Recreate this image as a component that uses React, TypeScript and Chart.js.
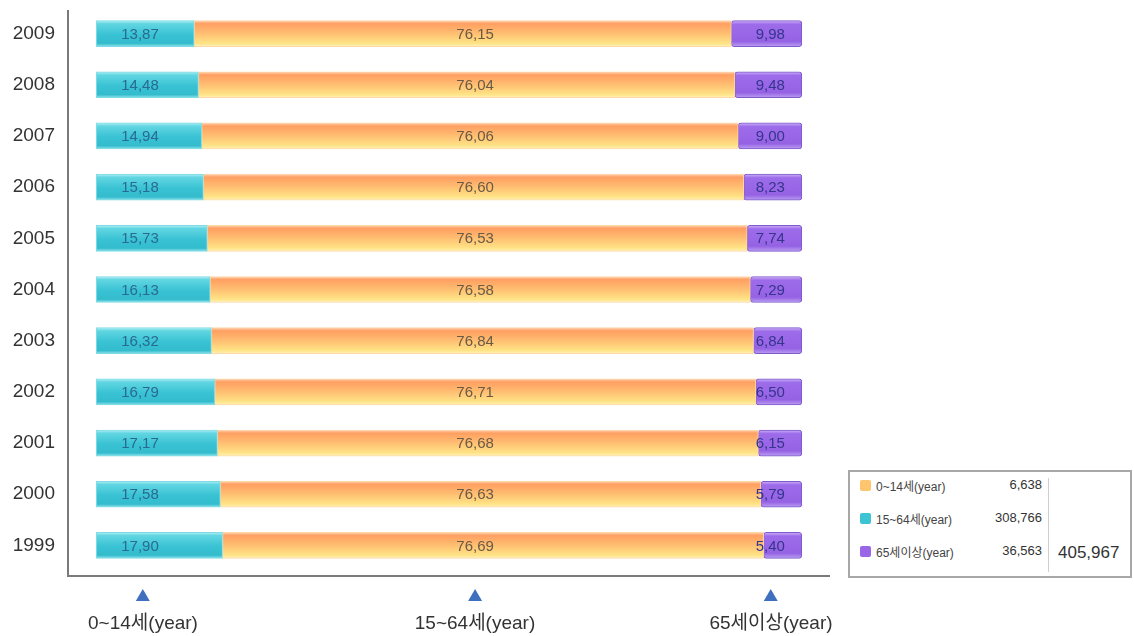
import React, { useEffect, useRef } from "react";
import { Chart, registerables } from "chart.js";

Chart.register(...registerables);

const years = ["2009", "2008", "2007", "2006", "2005", "2004", "2003", "2002", "2001", "2000", "1999"];
const age0to14 = [13.87, 14.48, 14.94, 15.18, 15.73, 16.13, 16.32, 16.79, 17.17, 17.58, 17.9];
const age15to64 = [76.15, 76.04, 76.06, 76.6, 76.53, 76.58, 76.84, 76.71, 76.68, 76.63, 76.69];
const age65plus = [9.98, 9.48, 9.0, 8.23, 7.74, 7.29, 6.84, 6.5, 6.15, 5.79, 5.4];

const groupLabels = ["0~14세(year)", "15~64세(year)", "65세이상(year)"];
const legendLabels = ["0~14세(year)", "15~64세(year)", "65세이상(year)"];
const legendValues = ["6,638", "308,766", "36,563"];
const legendTotal = "405,967";

const FONT = '"Liberation Sans", "Noto Sans CJK KR", Arial, sans-serif';
const BAR_H = 26;

const fmt = (v: number) => v.toFixed(2).replace(".", ",");

type Stop = [number, string];
const tealStops: Stop[] = [[0, "#b4f0f4"], [0.12, "#62d6e2"], [0.55, "#38c2d3"], [0.88, "#34bccd"], [1, "#8fe4ec"]];
const orangeStops: Stop[] = [[0, "#ffd0b0"], [0.12, "#ff9f62"], [0.5, "#ffbf72"], [0.88, "#ffe486"], [1, "#fff2c0"]];
const purpleStops: Stop[] = [[0, "#cdb3f7"], [0.14, "#9d6cea"], [0.8, "#9562e4"], [1, "#bba0f2"]];

function gradientFor(stops: Stop[], flat: string) {
  return (ctx: any) => {
    const chart = ctx.chart;
    const ys = chart.scales && chart.scales.y;
    if (!ys || ctx.dataIndex === undefined) return flat;
    const y = ys.getPixelForValue(ctx.dataIndex);
    if (!isFinite(y)) return flat;
    const g = chart.ctx.createLinearGradient(0, y - BAR_H / 2, 0, y + BAR_H / 2);
    stops.forEach(([o, c]) => g.addColorStop(o, c));
    return g;
  };
}

const overlayPlugin = {
  id: "overlay",
  afterDatasetsDraw(chart: any) {
    const { ctx, scales } = chart;
    const xs = scales.x;
    const ys = scales.y;
    const area = chart.chartArea;
    ctx.save();
    // axes lines
    ctx.strokeStyle = "#7a7a7a";
    ctx.lineWidth = 2;
    ctx.beginPath();
    ctx.moveTo(area.left, 10);
    ctx.lineTo(area.left, 576);
    ctx.lineTo(area.right, 576);
    ctx.stroke();
    // value labels
    ctx.font = `15px ${FONT}`;
    ctx.textBaseline = "middle";
    years.forEach((_, i) => {
      const y = ys.getPixelForValue(i) + 1;
      ctx.textAlign = "center";
      ctx.fillStyle = "#2a6a92";
      ctx.fillText(fmt(age0to14[i]), xs.getPixelForValue(6.2), y);
      ctx.fillStyle = "#6a5a44";
      ctx.fillText(fmt(age15to64[i]), xs.getPixelForValue(53.7), y);
      ctx.textAlign = "right";
      ctx.fillStyle = "#36358c";
      ctx.fillText(fmt(age65plus[i]), xs.getPixelForValue(97.6), y);
    });
    // triangles
    ctx.fillStyle = "#3f6fbf";
    [6.6, 53.7, 95.6].forEach((v) => {
      const x = xs.getPixelForValue(v);
      ctx.beginPath();
      ctx.moveTo(x, 589);
      ctx.lineTo(x + 7, 601);
      ctx.lineTo(x - 7, 601);
      ctx.closePath();
      ctx.fill();
    });
    ctx.restore();
  },
};

export default function App() {
  const canvasRef = useRef<HTMLCanvasElement | null>(null);

  useEffect(() => {
    document.body.style.margin = "0";
    const canvas = canvasRef.current;
    if (!canvas) return;
    const chart = new Chart(canvas, {
      type: "bar",
      data: {
        labels: years,
        datasets: [
          {
            label: groupLabels[0],
            data: age0to14,
            backgroundColor: gradientFor(tealStops, "#3cc4d4"),
            borderColor: "#7fdce6",
            borderWidth: 1,
            borderRadius: 3,
            borderSkipped: false,
            barThickness: BAR_H,
            stack: "s",
          },
          {
            label: groupLabels[1],
            data: age15to64,
            backgroundColor: gradientFor(orangeStops, "#ffc070"),
            borderColor: "#ffd9a8",
            borderWidth: 1,
            borderRadius: 0,
            borderSkipped: false,
            barThickness: BAR_H,
            stack: "s",
          },
          {
            label: groupLabels[2],
            data: age65plus,
            backgroundColor: gradientFor(purpleStops, "#9866e6"),
            borderColor: "#7e5acc",
            borderWidth: 1,
            borderRadius: 3,
            borderSkipped: false,
            barThickness: BAR_H,
            stack: "s",
          },
        ],
      },
      options: {
        indexAxis: "y",
        animation: false,
        responsive: true,
        maintainAspectRatio: false,
        layout: { padding: { top: 8, bottom: 65, left: 0, right: 304 } },
        plugins: { legend: { display: false }, tooltip: { enabled: false } },
        scales: {
          x: { stacked: true, min: -4, max: 104, display: false },
          y: {
            stacked: true,
            grid: { display: false, drawTicks: false },
            border: { display: false },
            ticks: { color: "#333", font: { size: 19, family: FONT }, padding: 13 },
            afterFit: (s: any) => {
              s.width = 68;
              s.paddingTop = 0;
              s.paddingBottom = 0;
            },
          },
        },
      },
      plugins: [overlayPlugin],
    } as any);
    return () => chart.destroy();
  }, []);

  const iconColors = ["#ffc46e", "#3cc4d4", "#9866e6"];
  const labelX = [143, 475, 771];

  return (
    <div style={{ position: "fixed", left: 0, top: 0, width: 1134, height: 636, background: "#fff", fontFamily: FONT }}>
      <canvas ref={canvasRef} style={{ position: "absolute", left: 0, top: 0 }} />
      {groupLabels.map((t, i) => (
        <div
          key={t}
          style={{
            position: "absolute",
            left: labelX[i] - 100,
            width: 200,
            top: 612,
            textAlign: "center",
            fontSize: 19,
            lineHeight: "22px",
            color: "#333",
            whiteSpace: "nowrap",
          }}
        >
          {t}
        </div>
      ))}
      <div
        style={{
          position: "absolute",
          left: 848,
          top: 470,
          width: 284,
          height: 108,
          border: "2px solid #a8a8a8",
          boxSizing: "border-box",
          background: "#fff",
        }}
      >
        <div style={{ position: "absolute", left: 198, top: 6, width: 1, height: 94, background: "#cfcfcf" }} />
        {legendLabels.map((t, i) => (
          <div key={t} style={{ position: "absolute", left: 0, top: 5 + i * 33, height: 16, width: 200 }}>
            <div
              style={{
                position: "absolute",
                left: 10,
                top: 3,
                width: 11,
                height: 11,
                borderRadius: 2,
                background: iconColors[i],
              }}
            />
            <div style={{ position: "absolute", left: 26, top: 0, fontSize: 12, color: "#444", whiteSpace: "nowrap" }}>{t}</div>
            <div
              style={{
                position: "absolute",
                right: 8,
                top: 0,
                fontSize: 13,
                color: "#333",
                whiteSpace: "nowrap",
              }}
            >
              {legendValues[i]}
            </div>
          </div>
        ))}
        <div style={{ position: "absolute", left: 208, top: 71, fontSize: 17, color: "#333", whiteSpace: "nowrap" }}>{legendTotal}</div>
      </div>
    </div>
  );
}
